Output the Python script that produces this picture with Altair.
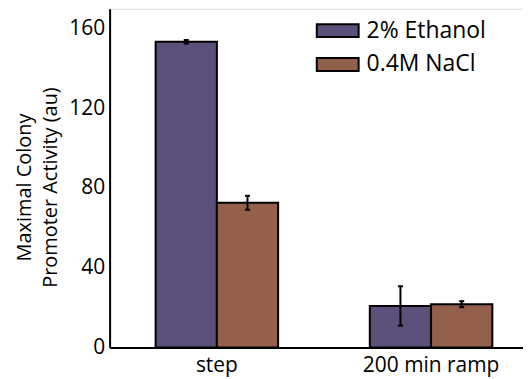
import altair as alt
import pandas as pd

conditions = ["step", "step", "200 min ramp", "200 min ramp"]
series = ["2% Ethanol", "0.4M NaCl", "2% Ethanol", "0.4M NaCl"]
values = [153.4, 72.6, 20.8, 21.7]
errors = [0.9, 3.5, 9.9, 1.5]

cat_order = ["step", "200 min ramp"]
series_order = ["2% Ethanol", "0.4M NaCl"]
colors = ["#5b5079", "#93604b"]
y_ticks = [0, 40, 80, 120, 160]

df = pd.DataFrame({"cond": conditions, "series": series, "value": values, "err": errors})
df["lo"] = df["value"] - df["err"]
df["hi"] = df["value"] + df["err"]

FONT = "Open Sans"

x_enc = alt.X(
    "cond:N",
    sort=cat_order,
    scale=alt.Scale(paddingInner=0.428, paddingOuter=0.179, align=0.6),
    axis=alt.Axis(
        title=None, ticks=False, labelAngle=0, labelFontSize=21, labelFont=FONT,
        labelColor="black", labelPadding=7, domainColor="black", domainWidth=2,
    ),
)
xo_enc = alt.XOffset(
    "series:N", sort=series_order, scale=alt.Scale(paddingInner=0, paddingOuter=0)
)
y_scale = alt.Scale(domain=[0, 170], nice=False)

bars = alt.Chart(df).mark_bar(stroke="black", strokeWidth=2, opacity=1).encode(
    x=x_enc,
    xOffset=xo_enc,
    y=alt.Y(
        "value:Q",
        scale=y_scale,
        axis=alt.Axis(
            values=y_ticks, grid=False, ticks=False, labelFontSize=21, labelFont=FONT,
            labelColor="black", labelPadding=5, domainColor="black", domainWidth=2,
            title=["Maximal Colony", "Promoter Activity (au)"],
            titleFont=FONT, titleFontSize=20, titleFontWeight="normal", titleColor="black",
            titleAngle=270, titleLineHeight=26, titleX=-79, titleY=179,
            titleAlign="center", titleBaseline="alphabetic",
        ),
    ),
    fill=alt.Fill(
        "series:N",
        sort=series_order,
        scale=alt.Scale(domain=series_order, range=colors),
        legend=alt.Legend(
            title=None, orient="none", legendX=213, legendY=6, padding=0,
            symbolType="M-1.4,-0.43L1.4,-0.43L1.4,0.43L-1.4,0.43Z",
            symbolSize=900, symbolStrokeColor="black", symbolStrokeWidth=2,
            symbolOpacity=1, labelFont=FONT, labelFontSize=23, labelColor="black",
            labelOffset=13, rowPadding=6, labelLimit=300,
        ),
    ),
)

rules = alt.Chart(df).mark_rule(color="black", strokeWidth=2).encode(
    x=alt.X("cond:N", sort=cat_order),
    xOffset=alt.XOffset("series:N", sort=series_order),
    y=alt.Y("lo:Q", scale=y_scale),
    y2="hi:Q",
)

caps_hi = alt.Chart(df).mark_tick(color="black", thickness=2, size=5, opacity=1).encode(
    x=alt.X("cond:N", sort=cat_order),
    xOffset=alt.XOffset("series:N", sort=series_order),
    y=alt.Y("hi:Q", scale=y_scale),
)
caps_lo = alt.Chart(df).mark_tick(color="black", thickness=2, size=5, opacity=1).encode(
    x=alt.X("cond:N", sort=cat_order),
    xOffset=alt.XOffset("series:N", sort=series_order),
    y=alt.Y("lo:Q", scale=y_scale),
)

chart = (
    alt.layer(bars, rules, caps_hi, caps_lo)
    .properties(width=415, height=340, padding={"top": 0, "left": 7, "right": 0, "bottom": 2})
    .configure_view(stroke=None)
    .configure(background="white")
)

chart.save("out.html", embed_options={"renderer": "svg", "actions": False})
